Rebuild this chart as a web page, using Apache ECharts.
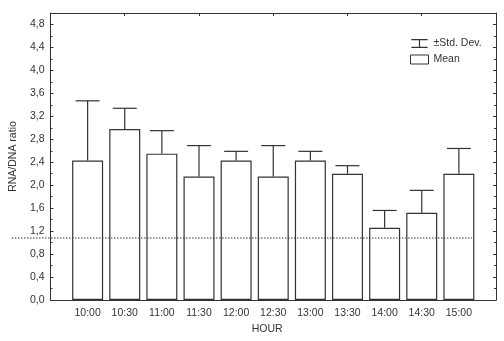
<!DOCTYPE html>
<html>
<head>
<meta charset="utf-8">
<script src="https://cdn.jsdelivr.net/npm/echarts@6/dist/echarts.min.js"></script>
<style>
  html, body { margin: 0; padding: 0; background: #fff; }
  #chart { width: 504px; height: 341px; }
</style>
</head>
<body>
<div id="chart"></div>
<script>
// categories (blank slots at both ends leave one empty band each side)
const hours = ['', '10:00', '10:30', '11:00', '11:30', '12:00', '12:30', '13:00', '13:30', '14:00', '14:30', '15:00', '']
const means = ['-', 2.43, 2.98, 2.55, 2.15, 2.43, 2.15, 2.43, 2.20, 1.26, 1.52, 2.20, '-']
const stdDevs = ['-', 1.04, 0.36, 0.40, 0.54, 0.16, 0.54, 0.16, 0.14, 0.30, 0.39, 0.44, '-']
const threshold = 1.08

const ink = '#333'
const font = 'Liberation Sans, Arial, sans-serif'

const errData = []
means.forEach((m, i) => {
  if (m !== '-') errData.push([i, m, m + stdDevs[i]])
})

const chart = echarts.init(document.getElementById('chart'))

const fmt = v => v.toFixed(1).replace('.', ',')

const option = {
  animation: false,
  grid: [
    { left: 40, right: 8, top: 13, bottom: 41 },
    { left: 12, right: 32, top: 13, bottom: 41 } // dotted reference line
  ],
  legend: {
    orient: 'vertical',
    left: 405,
    top: 33,
    itemWidth: 18,
    itemHeight: 9,
    itemGap: 5,
    textStyle: { fontFamily: font, fontSize: 10.5, color: ink },
    data: [
      {
        name: '±Std. Dev.',
        icon: 'path://M0,0h18v1.3h-18zM8.35,0h1.3v10h-1.3zM0,8.7h18v1.3h-18z',
        itemStyle: { color: ink, borderWidth: 0 }
      },
      {
        name: 'Mean',
        icon: 'rect',
        itemStyle: { color: '#fff', borderColor: ink, borderWidth: 1 }
      }
    ]
  },
  xAxis: [
    {
      type: 'category',
      data: hours,
      boundaryGap: false,
      gridIndex: 0,
      name: 'HOUR',
      nameLocation: 'middle',
      nameGap: 22,
      nameTextStyle: { fontFamily: font, fontSize: 10.5, color: ink, padding: [0, 12, 0, 0] },
      axisLine: { onZero: false, lineStyle: { color: ink, width: 1 } },
      axisTick: { inside: true, length: 3, lineStyle: { color: ink } },
      axisLabel: { fontFamily: font, fontSize: 10.5, color: ink, margin: 8 },
      splitLine: { show: false }
    },
    {
      type: 'category',
      data: hours,
      boundaryGap: false,
      gridIndex: 0,
      position: 'top',
      axisLine: { onZero: false, lineStyle: { color: ink, width: 1 } },
      axisTick: { inside: true, length: 3, lineStyle: { color: ink } },
      axisLabel: { show: false },
      splitLine: { show: false }
    },
    { type: 'value', gridIndex: 1, min: 0, max: 1, show: false }
  ],
  yAxis: [
    {
      type: 'value',
      gridIndex: 0,
      min: 0,
      max: 5,
      interval: 0.4,
      name: 'RNA/DNA ratio',
      nameLocation: 'middle',
      nameGap: 26,
      nameTextStyle: { fontFamily: font, fontSize: 10.5, color: ink },
      axisLine: { show: true, onZero: false, lineStyle: { color: ink, width: 1 } },
      axisTick: { show: true, inside: true, length: 3, lineStyle: { color: ink } },
      minorTick: { show: true, splitNumber: 2, length: 2, lineStyle: { color: ink } },
      axisLabel: { fontFamily: font, fontSize: 10.5, color: ink, margin: 6, formatter: fmt, showMaxLabel: false },
      splitLine: { show: false }
    },
    {
      type: 'value',
      gridIndex: 0,
      min: 0,
      max: 5,
      interval: 0.4,
      position: 'right',
      axisLine: { show: true, onZero: false, lineStyle: { color: ink, width: 1 } },
      axisTick: { show: true, inside: true, length: 3, lineStyle: { color: ink } },
      minorTick: { show: true, splitNumber: 2, length: 2, lineStyle: { color: ink } },
      axisLabel: { show: false },
      splitLine: { show: false }
    },
    { type: 'value', gridIndex: 1, min: 0, max: 5, show: false }
  ],
  series: [
    {
      name: 'Mean',
      type: 'bar',
      xAxisIndex: 0,
      yAxisIndex: 0,
      barWidth: 31,
      data: means,
      itemStyle: { color: '#fff', borderColor: ink, borderWidth: 1.2 },
      z: 2
    },
    {
      name: '±Std. Dev.',
      type: 'custom',
      xAxisIndex: 0,
      yAxisIndex: 0,
      data: errData,
      z: 3,
      renderItem: (params, api) => {
        const base = api.coord([api.value(0), api.value(1)])
        const top = api.coord([api.value(0), api.value(2)])
        const half = 12
        const style = { stroke: ink, lineWidth: 1.2, fill: null }
        return {
          type: 'group',
          children: [
            { type: 'line', shape: { x1: top[0], y1: base[1], x2: top[0], y2: top[1] }, style },
            { type: 'line', shape: { x1: top[0] - half, y1: top[1], x2: top[0] + half, y2: top[1] }, style }
          ]
        }
      }
    },
    {
      type: 'line',
      xAxisIndex: 2,
      yAxisIndex: 2,
      symbol: 'none',
      silent: true,
      data: [[0, threshold], [1, threshold]],
      lineStyle: { color: ink, width: 1, type: [1.5, 1.5] },
      z: 4
    }
  ]
}

chart.setOption(option)
</script>
</body>
</html>
